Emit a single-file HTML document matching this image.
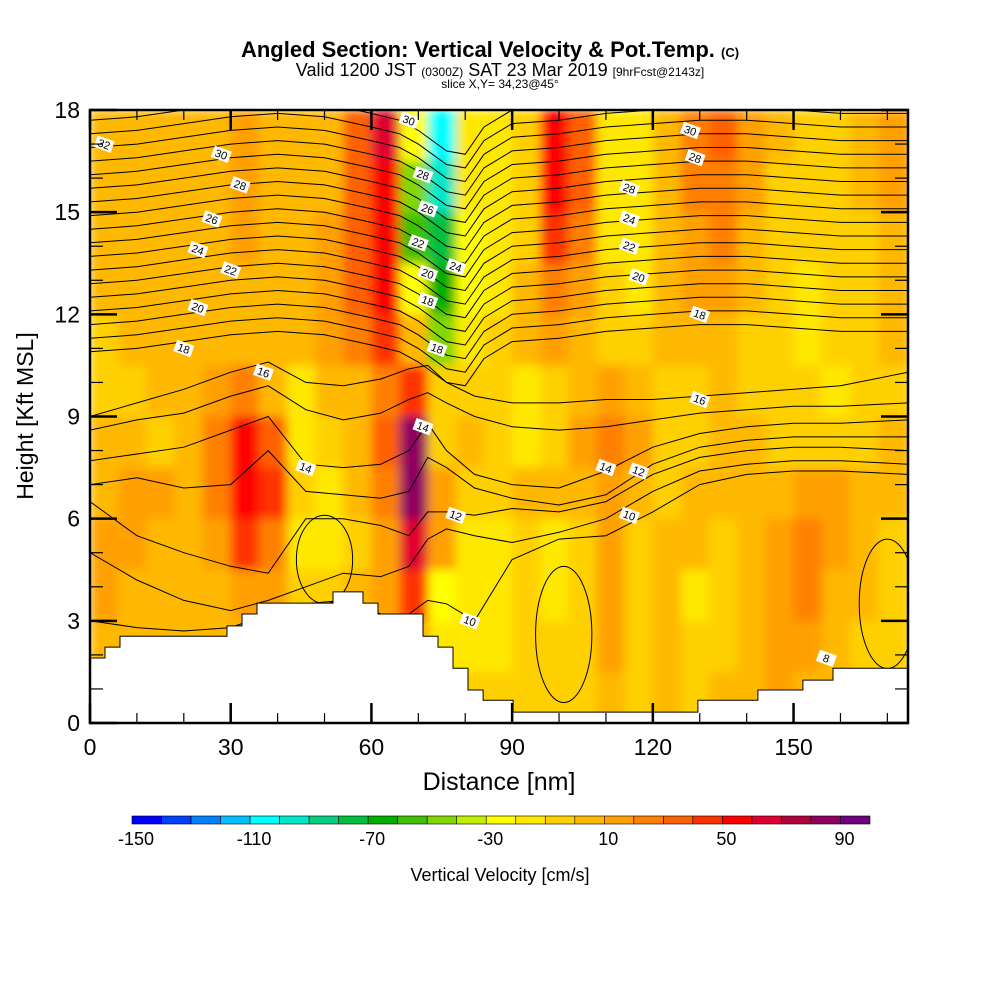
<!DOCTYPE html>
<html><head><meta charset="utf-8">
<style>
html,body{margin:0;padding:0;background:#fff;}
svg{display:block;font-family:"Liberation Sans",sans-serif;}
</style></head>
<body>
<svg id="chart" width="1000" height="1000" viewBox="0 0 1000 1000">
<defs>
<clipPath id="plotclip"><rect x="90" y="110" width="818" height="613"/></clipPath>
<filter id="smooth" x="0" y="0" width="1" height="1"><feGaussianBlur stdDeviation="5" edgeMode="duplicate"/></filter>
</defs>
<text x="490" y="57" text-anchor="middle" font-size="22" font-weight="bold">Angled Section: Vertical Velocity &amp; Pot.Temp. <tspan font-size="13">(C)</tspan></text>
<text x="500" y="76" text-anchor="middle" font-size="18">Valid 1200 JST <tspan font-size="12">(0300Z)</tspan> SAT 23 Mar 2019 <tspan font-size="12">[9hrFcst@2143z]</tspan></text>
<text x="500" y="88" text-anchor="middle" font-size="12">slice X,Y= 34,23@45°</text>
<g id="plot" clip-path="url(#plotclip)">
<g id="heat" filter="url(#smooth)"></g>
<g id="contours"></g>
<path id="terrain" fill="#fff" stroke="#000" stroke-width="1"/>
<g id="clabels"></g>
</g>
<rect x="90" y="110" width="818" height="613" fill="none" stroke="#000" stroke-width="2.5"/>
<g id="ticks"></g>
<text transform="translate(33,416) rotate(-90)" text-anchor="middle" font-size="23">Height [Kft MSL]</text>
<text x="499" y="790" text-anchor="middle" font-size="25">Distance [nm]</text>
<g id="cbar"></g>
<text x="500" y="881" text-anchor="middle" font-size="18">Vertical Velocity [cm/s]</text>
</svg>
<script>
const cbLevels=[-150,-140,-130,-120,-110,-100,-90,-80,-70,-60,-50,-40,-30,-20,-10,0,10,20,30,40,50,60,70,80,90];
const cbColors=["#0000ff","#0040ff","#0080ff","#00c0ff","#00ffff","#00e8c8","#00d080","#00c040","#00b000","#40c000","#80d800","#c0f000","#ffff00","#ffe800","#ffd000","#ffb800","#ffa000","#ff8000","#ff6000","#ff3000","#ff0000","#e00030","#b00040","#900060","#700080"];
const cbTickLabels=[-150,-110,-70,-30,10,50,90];
const xTicks=[0,30,60,90,120,150];
const yTicks=[0,3,6,9,12,15,18];
// velocity grid: 29 columns (6 nm) x 12 rows (1.5 kft), row 0 = top
const velocity=[
[5,5,5,5,5,15,5,5,5,35,60,-25,-105,-15,-15,-5,55,35,-15,-15,5,25,30,15,5,-5,-5,5,15],
[5,5,5,5,5,15,5,5,5,35,55,-45,-95,-15,-15,-5,50,30,-15,-15,5,25,25,15,-5,-5,-5,5,15],
[5,5,5,5,5,15,5,5,15,35,55,-55,-75,-25,-15,-5,45,25,-15,-15,5,15,25,5,-5,-5,-5,-5,5],
[5,5,5,5,5,5,5,5,15,35,55,-25,-65,-25,-15,5,25,15,-5,-15,5,15,15,5,-5,-15,-5,-5,5],
[-5,5,5,5,5,5,5,5,15,25,45,5,-45,-15,-5,5,15,5,-5,-5,5,5,5,-5,-5,-15,-5,-5,5],
[-5,-5,5,5,15,25,5,-15,5,5,25,45,-5,-5,-5,-15,-5,5,15,5,-5,-5,5,-5,-5,-5,-15,-5,-5],
[5,5,-5,5,25,55,35,-15,-5,5,35,85,-5,5,-5,-15,-5,15,25,15,-5,-5,5,5,-5,-5,-5,-5,5],
[5,15,15,5,25,55,45,-5,-15,5,25,85,15,-5,-5,5,5,5,15,5,-5,5,5,5,5,15,15,5,5],
[15,15,5,5,15,45,25,-15,-15,-5,15,65,15,-15,-15,-5,-15,-5,15,-5,5,5,-5,5,15,25,15,5,-5],
[15,5,5,5,5,15,15,-5,-5,5,15,45,-25,-15,-15,-5,-15,-5,15,-5,5,-15,-5,5,15,25,5,5,-5],
[5,5,5,5,5,5,5,5,5,5,5,15,-15,-15,-15,-5,-5,-5,15,-5,5,-5,-5,5,15,15,5,-5,-5],
[5,5,5,5,5,5,5,5,5,5,5,5,-5,-5,-5,-5,-5,-5,5,-5,5,-5,5,5,15,5,5,-5,-5]
];
const terrainX=[0,3.2,6.4,29.2,32.4,35.6,51.8,58.2,61.4,71.0,74.2,77.4,80.6,83.8,90.2,129.6,142.4,152.0,158.4,174.4];
const terrainH=[1.91,2.23,2.55,2.85,3.2,3.52,3.85,3.52,3.2,2.55,2.23,1.61,0.97,0.67,0.32,0.67,0.97,1.26,1.61];
// upper isentropes: height = base + offset profile
const upperLevels=[17,18,19,20,21,22,23,24,25,26,27,28,29,30,31,32,33,34];
const upperBase=[10.9,11.3,11.7,12.1,12.5,12.9,13.3,13.7,14.1,14.5,14.9,15.3,15.7,16.1,16.5,16.9,17.3,17.7];
const upperX=[0,10,20,30,40,50,60,66,70,76,80,84,90,100,110,120,130,140,150,160,174.4];
const upperOffset=[0,0.1,0.3,0.5,0.6,0.5,0.2,0,-0.3,-0.9,-1.0,-0.2,0.3,0.4,0.6,0.7,0.8,0.8,0.7,0.6,0.6];
// lower isentropes
const lowerX=[0,10,20,30,38,46,54,62,68,72,76,82,90,100,110,120,130,140,150,160,174.4];
const lowerLevels=[16,15,14,13,12,11,10];
const lowerH=[
[9.0,9.4,9.8,10.3,10.6,10.0,9.9,10.1,10.4,10.5,10.0,9.6,9.4,9.4,9.5,9.5,9.6,9.7,9.8,9.9,10.3],
[8.6,8.9,9.1,9.6,9.9,9.2,8.9,9.1,9.5,9.7,9.4,9.0,8.7,8.6,8.7,8.9,9.1,9.2,9.3,9.3,9.4],
[7.7,7.9,8.1,8.6,9.0,7.6,7.5,7.6,8.0,8.8,8.0,7.3,7.0,6.9,7.4,8.1,8.5,8.7,8.8,8.8,8.9],
[7.0,7.2,6.9,7.0,8.0,6.8,6.7,6.6,6.8,7.8,7.5,6.9,6.6,6.4,6.7,7.6,8.1,8.3,8.4,8.4,8.4],
[6.5,5.5,5.0,4.6,4.4,6.0,6.0,5.8,5.5,6.2,6.2,6.1,6.3,6.2,6.5,7.3,7.8,8.0,8.1,8.1,8.0],
[5.0,4.2,3.6,3.3,3.6,4.0,4.4,4.3,4.6,5.4,5.7,5.5,5.3,5.6,6.0,6.8,7.4,7.6,7.7,7.7,7.6],
[3.0,2.8,2.7,2.8,3.2,3.5,3.6,3.2,3.2,3.6,3.5,3.0,4.8,5.4,5.5,6.2,7.0,7.3,7.4,7.4,7.3]
];
// closed contour cells in the lower field (center nm, center kft, half-width nm, half-height kft)
const ovalX=[101,50,170,102];
const ovalY=[2.6,4.8,3.5,6.5];
const ovalRX=[6,6,6,0];
const ovalRY=[2.0,1.3,1.9,0];
const labelText=["32","30","28","26","24","22","20","18","16","14","30","28","26","22","20","18","18","24","14","12","10","30","28","28","24","22","20","18","16","14","12","10","8"];
const labelX=[3,28,32,26,23,30,23,20,37,46,68,71,72,70,72,72,74,78,71,78,81,128,129,115,115,115,117,130,130,110,117,115,157];
const labelY=[17.0,16.7,15.8,14.8,13.9,13.3,12.2,11.0,10.3,7.5,17.7,16.1,15.1,14.1,13.2,12.4,11.0,13.4,8.7,6.1,3.0,17.4,16.6,15.7,14.8,14.0,13.1,12.0,9.5,7.5,7.4,6.1,1.9];

const NS="http://www.w3.org/2000/svg";
const X0=90,X1=908,Y0=723,Y1=110,XMAX=174.4,YMAX=18;
const sx=v=>X0+v/XMAX*(X1-X0);
const sy=v=>Y0-v/YMAX*(Y0-Y1);
function colorFor(v){let i=Math.floor((v+150)/10);i=Math.max(0,Math.min(cbColors.length-1,i));return cbColors[i];}
function mk(tag,attrs,parent){const e=document.createElementNS(NS,tag);for(const k in attrs)e.setAttribute(k,attrs[k]);parent.appendChild(e);return e;}

const heat=document.getElementById('heat');
const nr=velocity.length,nc=velocity[0].length,dx=6,dy=YMAX/nr;
for(let r=0;r<nr;r++)for(let c=0;c<nc;c++){
  const x0=c*dx,x1=Math.min((c+1)*dx,XMAX)+ (c===nc-1?1:0);
  const top=YMAX-r*dy;
  const e=mk('rect',{x:sx(x0),y:sy(top),width:sx(x1)-sx(x0)+0.5,height:sy(top-dy)-sy(top)+0.5,fill:colorFor(velocity[r][c])},heat);
  
  
}

const cont=document.getElementById('contours');
function line(xs,hs){let d='';for(let i=0;i<xs.length;i++)d+=(i?'L':'M')+sx(xs[i]).toFixed(1)+' '+sy(hs[i]).toFixed(1);
  const p=mk('path',{d:d,fill:'none',stroke:'#000','stroke-width':1},cont);
  
  }
for(let k=0;k<upperLevels.length;k++)line(upperX,upperX.map((x,i)=>upperBase[k]+upperOffset[i]));
for(let k=0;k<lowerLevels.length;k++)line(lowerX,lowerH[k]);
for(let k=0;k<ovalX.length;k++){ if(!ovalRX[k])continue;
  const e=mk('ellipse',{cx:sx(ovalX[k]),cy:sy(ovalY[k]),rx:sx(ovalRX[k])-sx(0),ry:sy(0)-sy(ovalRY[k]),fill:'none',stroke:'#000','stroke-width':1},cont);
  
  }

let td='M'+sx(0)+' '+sy(0);
for(let i=0;i<terrainH.length;i++){td+='L'+sx(terrainX[i]).toFixed(1)+' '+sy(terrainH[i]).toFixed(1)+'L'+sx(terrainX[i+1]).toFixed(1)+' '+sy(terrainH[i]).toFixed(1);}
td+='L'+sx(XMAX)+' '+sy(0)+'Z';
document.getElementById('terrain').setAttribute('d',td);

const cl=document.getElementById('clabels');
for(let i=0;i<labelText.length;i++){
  const g=mk('g',{transform:`translate(${sx(labelX[i]).toFixed(1)},${sy(labelY[i]).toFixed(1)}) rotate(20)`},cl);
  
  
  mk('rect',{x:-9,y:-6,width:18,height:12,fill:'#fff'},g);
  const t=mk('text',{x:0,y:4,'text-anchor':'middle','font-size':11},g);t.textContent=labelText[i];
}

const tk=document.getElementById('ticks');
for(let v=0;v<=170;v+=10){const maj=v%30===0;const L=maj?20:10;
  mk('line',{x1:sx(v),x2:sx(v),y1:Y0,y2:Y0-L,stroke:'#000','stroke-width':maj?2.5:1.2},tk);
  mk('line',{x1:sx(v),x2:sx(v),y1:Y1,y2:Y1+L,stroke:'#000','stroke-width':maj?2.5:1.2},tk);}
for(let v=0;v<=18;v++){const maj=v%3===0;const L=maj?27:13;
  mk('line',{x1:X0,x2:X0+L,y1:sy(v),y2:sy(v),stroke:'#000','stroke-width':maj?2.5:1.2},tk);
  mk('line',{x1:X1,x2:X1-L,y1:sy(v),y2:sy(v),stroke:'#000','stroke-width':maj?2.5:1.2},tk);}
xTicks.forEach(v=>{const t=mk('text',{x:sx(v),y:755,'text-anchor':'middle','font-size':23},tk);t.textContent=v;
  
  });
yTicks.forEach(v=>{const t=mk('text',{x:80,y:sy(v)+8,'text-anchor':'end','font-size':23},tk);t.textContent=v;
  
  });

const cb=document.getElementById('cbar');
const CB0=132,CB1=870,cw=(CB1-CB0)/cbColors.length;
cbColors.forEach((c,i)=>{const r=mk('rect',{x:CB0+i*cw,y:816,width:cw,height:8,fill:c,stroke:'#000','stroke-width':0.6},cb);
  
  });
cbTickLabels.forEach(v=>{const i=cbLevels.indexOf(v);const t=mk('text',{x:CB0+i*cw+4,y:845,'text-anchor':'middle','font-size':18},cb);t.textContent=v;
  
  });
</script>
</body></html>
